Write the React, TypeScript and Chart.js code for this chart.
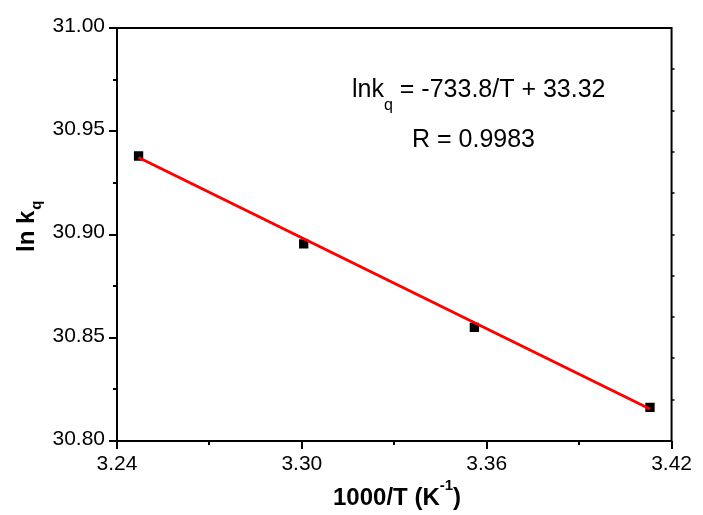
import { useEffect, useRef } from 'react';
import { Chart, registerables } from 'chart.js';

Chart.register(...registerables);

const FONT = '"Liberation Sans", Arial, Helvetica, sans-serif';

// Data
const xValues = [3.247, 3.3006, 3.356, 3.413];
const yValues = [30.938, 30.8955, 30.855, 30.8163];
// Linear fit line endpoints
const fitX = [3.247, 3.413];
const fitY = [30.9373, 30.8155];

// Axis ticks
const xMajorTicks = [3.24, 3.3, 3.36, 3.42];
const xMinorTicks = [3.27, 3.33, 3.39];
const yMajorTicks = [30.8, 30.85, 30.9, 30.95, 31.0];
const yMinorTicks = [30.825, 30.875, 30.925, 30.975];
const yRightTicks = [30.82, 30.84, 30.86, 30.88, 30.9, 30.92, 30.94, 30.96, 30.98];

// Texts
const xTitle = { main: '1000/T (K', sup: '-1', tail: ')' };
const yTitle = { main: 'ln k', sub: 'q' };
const eqLine1 = { pre: 'lnk', sub: 'q', post: ' = -733.8/T + 33.32' };
const eqLine2 = 'R = 0.9983';

const framePlugin = {
  id: 'framePlugin',
  afterDraw(chart: any) {
    const ctx = chart.ctx as CanvasRenderingContext2D;
    const { left, right, top, bottom } = chart.chartArea;
    const xs = chart.scales.x;
    const ys = chart.scales.y;
    ctx.save();
    ctx.strokeStyle = '#000';
    ctx.lineWidth = 2;
    ctx.lineCap = 'butt';
    // frame
    ctx.beginPath();
    ctx.rect(left, top, right - left, bottom - top);
    ctx.stroke();
    // left ticks
    ctx.beginPath();
    yMajorTicks.forEach((v) => {
      const y = Math.round(ys.getPixelForValue(v));
      ctx.moveTo(left - 8, y);
      ctx.lineTo(left, y);
    });
    yMinorTicks.forEach((v) => {
      const y = Math.round(ys.getPixelForValue(v));
      ctx.moveTo(left - 4, y);
      ctx.lineTo(left, y);
    });
    // bottom ticks
    xMajorTicks.forEach((v) => {
      const x = Math.round(xs.getPixelForValue(v));
      ctx.moveTo(x, bottom);
      ctx.lineTo(x, bottom + 8);
    });
    xMinorTicks.forEach((v) => {
      const x = Math.round(xs.getPixelForValue(v));
      ctx.moveTo(x, bottom);
      ctx.lineTo(x, bottom + 4);
    });
    ctx.stroke();
    // right small ticks
    ctx.lineWidth = 1.5;
    ctx.beginPath();
    yRightTicks.forEach((v) => {
      const y = Math.round(ys.getPixelForValue(v));
      ctx.moveTo(right, y);
      ctx.lineTo(right + 3, y);
    });
    ctx.stroke();

    ctx.fillStyle = '#000';
    ctx.textBaseline = 'alphabetic';
    ctx.textAlign = 'left';

    // equation annotation
    ctx.font = `25px ${FONT}`;
    let x = 352;
    ctx.fillText(eqLine1.pre, x, 97);
    x += ctx.measureText(eqLine1.pre).width;
    ctx.font = `16px ${FONT}`;
    ctx.fillText(eqLine1.sub, x, 110);
    x += ctx.measureText(eqLine1.sub).width;
    ctx.font = `25px ${FONT}`;
    ctx.fillText(eqLine1.post, x, 97);
    ctx.fillText(eqLine2, 412, 147);

    // x title
    ctx.font = `bold 24px ${FONT}`;
    x = 333;
    ctx.fillText(xTitle.main, x, 505);
    x += ctx.measureText(xTitle.main).width;
    ctx.font = `bold 15px ${FONT}`;
    ctx.fillText(xTitle.sup, x, 490);
    x += ctx.measureText(xTitle.sup).width;
    ctx.font = `bold 24px ${FONT}`;
    ctx.fillText(xTitle.tail, x, 505);

    // y title (rotated)
    ctx.translate(34, 252);
    ctx.rotate(-Math.PI / 2);
    ctx.font = `bold 24px ${FONT}`;
    ctx.fillText(yTitle.main, 0, 0);
    const w = ctx.measureText(yTitle.main).width;
    ctx.font = `bold 15px ${FONT}`;
    ctx.fillText(yTitle.sub, w + 1, 7);
    ctx.restore();
  },
};

export default function App() {
  const canvasRef = useRef<HTMLCanvasElement | null>(null);

  useEffect(() => {
    document.body.style.margin = '0';
    const canvas = canvasRef.current;
    if (!canvas) return;
    const chart = new Chart(canvas, {
      type: 'scatter',
      data: {
        datasets: [
          {
            label: 'fit',
            data: fitX.map((x, i) => ({ x, y: fitY[i] })),
            showLine: true,
            borderColor: '#ff0000',
            backgroundColor: '#ff0000',
            borderWidth: 3,
            pointRadius: 0,
            pointHoverRadius: 0,
          },
          {
            label: 'ln kq',
            data: xValues.map((x, i) => ({ x, y: yValues[i] })),
            showLine: false,
            pointStyle: 'rect',
            pointRadius: 6.6,
            pointHoverRadius: 6.6,
            backgroundColor: '#000',
            borderColor: '#000',
            borderWidth: 0,
          },
        ],
      },
      options: {
        responsive: false,
        animation: false,
        events: [],
        layout: { padding: { top: 28, right: 28, left: 0, bottom: 0 } },
        plugins: {
          legend: { display: false },
          tooltip: { enabled: false },
        },
        scales: {
          x: {
            type: 'linear',
            min: 3.24,
            max: 3.42,
            afterBuildTicks: (s: any) => {
              s.ticks = xMajorTicks.map((v) => ({ value: v }));
            },
            afterFit: (s: any) => {
              s.height = 74;
            },
            grid: { display: false, drawTicks: false },
            border: { display: false },
            ticks: {
              font: { family: FONT, size: 21 },
              color: '#000',
              padding: 11,
              maxRotation: 0,
              autoSkip: false,
              callback: (v: any) => Number(v).toFixed(2),
            },
          },
          y: {
            type: 'linear',
            min: 30.8,
            max: 31.0,
            afterBuildTicks: (s: any) => {
              s.ticks = yMajorTicks.map((v) => ({ value: v }));
            },
            afterFit: (s: any) => {
              s.width = 117;
            },
            grid: { display: false, drawTicks: false },
            border: { display: false },
            ticks: {
              font: { family: FONT, size: 21 },
              color: '#000',
              padding: 12,
              labelOffset: -2,
              autoSkip: false,
              callback: (v: any) => Number(v).toFixed(2),
            },
          },
        },
      },
      plugins: [framePlugin],
    });
    return () => chart.destroy();
  }, []);

  return <canvas ref={canvasRef} width={703} height={515} style={{ display: 'block' }} />;
}
